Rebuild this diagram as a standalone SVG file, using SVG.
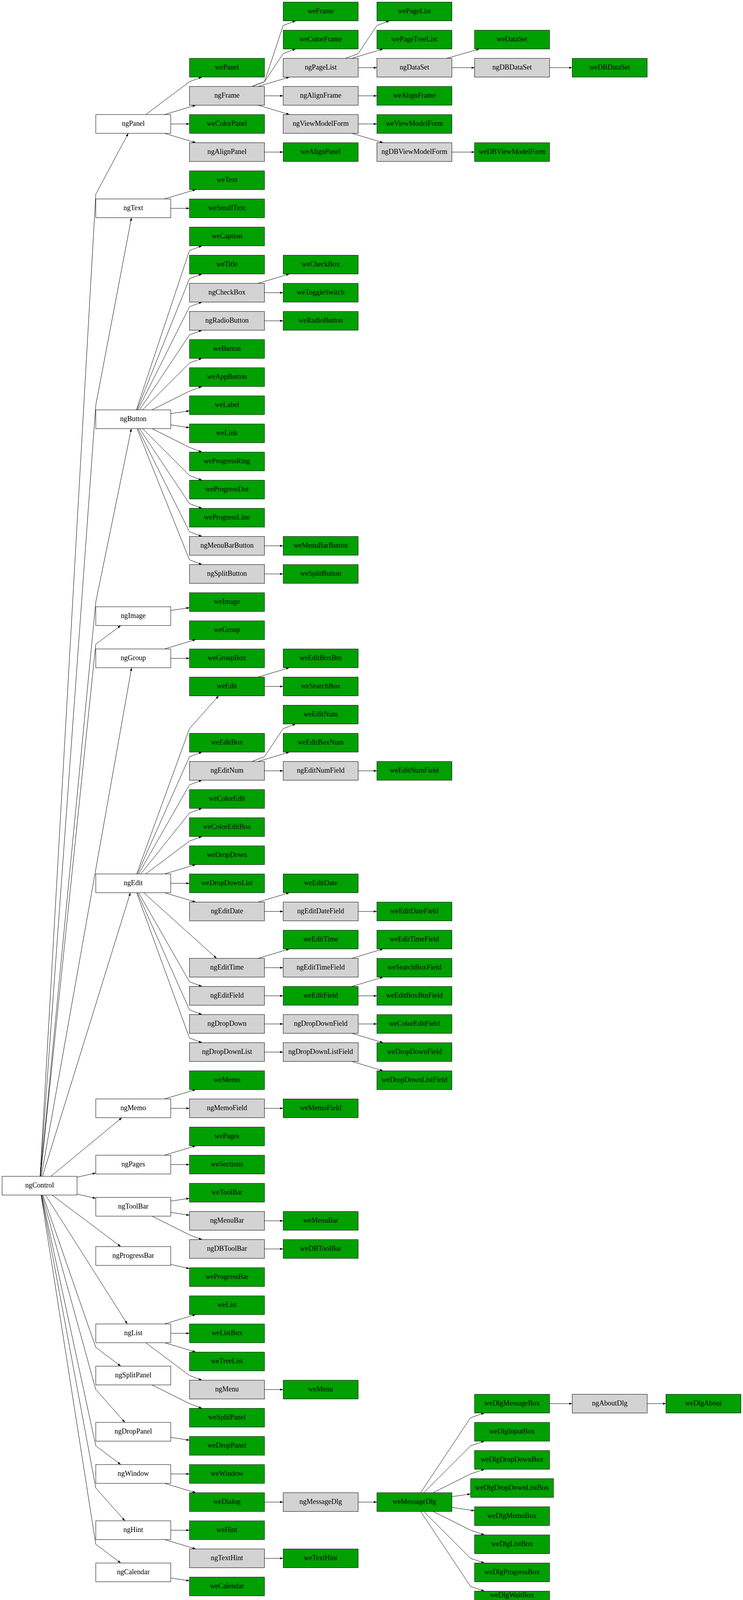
<svg xmlns="http://www.w3.org/2000/svg" width="1903" height="4127" viewBox="0 0 1903 4127">
<style>
.n rect{stroke:#000;stroke-width:1}
.w rect{fill:#fff}
.g rect{fill:#d3d3d3}
.v rect{fill:#00a000}
.n text{font-family:"Liberation Serif","Times New Roman",serif;font-size:18.2px;text-anchor:middle;fill:#000}
#edges path{fill:none;stroke:#000;stroke-width:1;marker-end:url(#arr)}
</style>
<defs>
<marker id="arr" markerUnits="userSpaceOnUse" markerWidth="8" markerHeight="6" refX="8" refY="2.8" orient="auto">
<path d="M0,0 L8,2.8 L0,5.6 z" fill="#000"/>
</marker>
</defs>
<rect x="0" y="0" width="1903" height="4127" fill="#fff"/>
<g id="edges">
<path d="M102.7,3011.3 L245.3,497.3 L328.5,341.3"/>
<path d="M103.1,3011.3 L245.3,1037.3 L336.7,557.3"/>
<path d="M103.6,3011.3 L245.3,1541.3 L336.4,1097.3"/>
<path d="M103.8,3011.3 L245.3,1649.3 L309.3,1601.3"/>
<path d="M105.6,3011.3 L337.1,1709.3"/>
<path d="M108.8,3011.3 L333.9,2285.3"/>
<path d="M130.4,3011.3 L312.2,2861.3"/>
<path d="M197.3,3013.7 L245.3,3002.9"/>
<path d="M197.3,3056.9 L245.3,3067.7"/>
<path d="M133.3,3059.3 L309.3,3191.3"/>
<path d="M116.5,3059.3 L326.1,3389.3"/>
<path d="M109.7,3059.3 L245.3,3449.3 L309.3,3497.3"/>
<path d="M107.9,3059.3 L245.3,3557.3 L320.0,3641.3"/>
<path d="M106.5,3059.3 L245.3,3701.3 L309.3,3749.3"/>
<path d="M105.8,3059.3 L245.3,3809.3 L320.0,3893.3"/>
<path d="M105.1,3059.3 L245.3,3953.3 L309.3,4001.3"/>
<path d="M373.3,293.3 L485.3,209.3 L517.3,197.3"/>
<path d="M421.3,293.3 L501.3,269.3"/>
<path d="M437.3,317.3 L485.3,317.3"/>
<path d="M421.3,341.3 L501.3,365.3"/>
<path d="M421.3,509.3 L501.3,485.3"/>
<path d="M437.3,533.3 L485.3,533.3"/>
<path d="M349.3,1049.3 L485.3,641.3 L517.3,629.3"/>
<path d="M350.9,1049.3 L485.3,713.3 L517.3,701.3"/>
<path d="M353.3,1049.3 L485.3,785.3 L517.3,773.3"/>
<path d="M357.3,1049.3 L485.3,857.3 L517.3,845.3"/>
<path d="M365.3,1049.3 L485.3,929.3 L517.3,917.3"/>
<path d="M389.3,1049.3 L485.3,1001.3 L517.3,989.3"/>
<path d="M437.3,1058.9 L485.3,1051.7"/>
<path d="M437.3,1087.7 L485.3,1094.9"/>
<path d="M389.3,1097.3 L485.3,1145.3 L517.3,1157.3"/>
<path d="M365.3,1097.3 L485.3,1217.3 L517.3,1229.3"/>
<path d="M357.3,1097.3 L485.3,1289.3 L517.3,1301.3"/>
<path d="M353.3,1097.3 L485.3,1361.3 L517.3,1373.3"/>
<path d="M350.9,1097.3 L485.3,1433.3 L517.3,1445.3"/>
<path d="M437.3,1562.9 L485.3,1555.7"/>
<path d="M421.3,1661.3 L501.3,1637.3"/>
<path d="M437.3,1685.3 L485.3,1685.3"/>
<path d="M350.0,2237.3 L485.3,1865.3 L560.0,1781.3"/>
<path d="M352.0,2237.3 L485.3,1937.3 L517.3,1925.3"/>
<path d="M355.0,2237.3 L485.3,2009.3 L517.3,1997.3"/>
<path d="M360.5,2237.3 L485.3,2081.3 L517.3,2069.3"/>
<path d="M373.3,2237.3 L485.3,2153.3 L517.3,2141.3"/>
<path d="M421.3,2237.3 L501.3,2213.3"/>
<path d="M437.3,2261.3 L485.3,2261.3"/>
<path d="M421.3,2285.3 L501.3,2309.3"/>
<path d="M368.0,2285.3 L554.7,2453.3"/>
<path d="M355.0,2285.3 L485.3,2513.3 L517.3,2525.3"/>
<path d="M352.0,2285.3 L485.3,2585.3 L517.3,2597.3"/>
<path d="M350.0,2285.3 L485.3,2657.3 L517.3,2669.3"/>
<path d="M421.3,2813.3 L501.3,2789.3"/>
<path d="M437.3,2837.3 L485.3,2837.3"/>
<path d="M421.3,2957.3 L501.3,2933.3"/>
<path d="M437.3,2981.3 L485.3,2981.3"/>
<path d="M437.3,3074.9 L485.3,3067.7"/>
<path d="M437.3,3103.7 L485.3,3110.9"/>
<path d="M389.3,3113.3 L485.3,3161.3 L517.3,3173.3"/>
<path d="M437.3,3236.9 L485.3,3247.7"/>
<path d="M421.3,3389.3 L501.3,3365.3"/>
<path d="M437.3,3413.3 L485.3,3413.3"/>
<path d="M421.3,3437.3 L501.3,3461.3"/>
<path d="M373.3,3437.3 L485.3,3521.3 L517.3,3533.3"/>
<path d="M389.3,3545.3 L485.3,3593.3 L517.3,3605.3"/>
<path d="M437.3,3679.7 L485.3,3686.9"/>
<path d="M437.3,3773.3 L485.3,3773.3"/>
<path d="M421.3,3797.3 L501.3,3821.3"/>
<path d="M437.3,3917.3 L485.3,3917.3"/>
<path d="M421.3,3941.3 L501.3,3965.3"/>
<path d="M437.3,4039.7 L485.3,4046.9"/>
<path d="M645.3,221.3 L677.3,209.3 L725.3,65.3 L757.3,53.3"/>
<path d="M645.3,221.3 L677.3,209.3 L725.3,137.3 L757.3,125.3"/>
<path d="M661.3,221.3 L741.3,197.3"/>
<path d="M677.3,245.3 L725.3,245.3"/>
<path d="M661.3,269.3 L741.3,293.3"/>
<path d="M677.3,389.3 L725.3,389.3"/>
<path d="M661.3,725.3 L741.3,701.3"/>
<path d="M677.3,749.3 L725.3,749.3"/>
<path d="M677.3,821.3 L725.3,821.3"/>
<path d="M677.3,1397.3 L725.3,1397.3"/>
<path d="M677.3,1469.3 L725.3,1469.3"/>
<path d="M661.3,1733.3 L741.3,1709.3"/>
<path d="M677.3,1757.3 L725.3,1757.3"/>
<path d="M645.3,1949.3 L677.3,1937.3 L725.3,1865.3 L757.3,1853.3"/>
<path d="M661.3,1949.3 L741.3,1925.3"/>
<path d="M677.3,1973.3 L725.3,1973.3"/>
<path d="M661.3,2309.3 L741.3,2285.3"/>
<path d="M677.3,2333.3 L725.3,2333.3"/>
<path d="M661.3,2453.3 L741.3,2429.3"/>
<path d="M677.3,2477.3 L725.3,2477.3"/>
<path d="M677.3,2549.3 L725.3,2549.3"/>
<path d="M677.3,2621.3 L725.3,2621.3"/>
<path d="M677.3,2693.3 L725.3,2693.3"/>
<path d="M677.3,2837.3 L725.3,2837.3"/>
<path d="M677.3,3125.3 L725.3,3125.3"/>
<path d="M677.3,3197.3 L725.3,3197.3"/>
<path d="M677.3,3557.3 L725.3,3557.3"/>
<path d="M677.3,3845.3 L725.3,3845.3"/>
<path d="M677.3,3989.3 L725.3,3989.3"/>
<path d="M885.3,149.3 L917.3,137.3 L965.3,65.3 L997.3,53.3"/>
<path d="M901.3,149.3 L981.3,125.3"/>
<path d="M917.3,173.3 L965.3,173.3"/>
<path d="M917.3,245.3 L965.3,245.3"/>
<path d="M917.3,317.3 L965.3,317.3"/>
<path d="M901.3,341.3 L981.3,365.3"/>
<path d="M917.3,1973.3 L965.3,1973.3"/>
<path d="M917.3,2333.3 L965.3,2333.3"/>
<path d="M901.3,2453.3 L981.3,2429.3"/>
<path d="M901.3,2525.3 L981.3,2501.3"/>
<path d="M917.3,2549.3 L965.3,2549.3"/>
<path d="M917.3,2621.3 L965.3,2621.3"/>
<path d="M901.3,2645.3 L981.3,2669.3"/>
<path d="M901.3,2717.3 L981.3,2741.3"/>
<path d="M917.3,3845.3 L965.3,3845.3"/>
<path d="M1144.7,149.3 L1228.1,125.3"/>
<path d="M1157.3,173.3 L1215.5,173.3"/>
<path d="M1407.5,173.3 L1465.7,173.3"/>
<path d="M1157.3,389.3 L1215.5,389.3"/>
<path d="M1077.3,3821.3 L1205.3,3629.3 L1240.7,3617.3"/>
<path d="M1085.3,3821.3 L1205.3,3701.3 L1240.7,3689.3"/>
<path d="M1109.3,3821.3 L1205.3,3773.3 L1240.7,3761.3"/>
<path d="M1157.3,3831.5 L1205.3,3824.6"/>
<path d="M1157.3,3859.1 L1215.5,3867.5"/>
<path d="M1109.3,3869.3 L1205.3,3917.3 L1240.7,3929.3"/>
<path d="M1085.3,3869.3 L1205.3,3989.3 L1240.7,4001.3"/>
<path d="M1077.3,3869.3 L1205.3,4061.3 L1240.7,4073.3"/>
<path d="M1407.5,3593.3 L1465.7,3593.3"/>
<path d="M1657.7,3593.3 L1705.7,3593.3"/>
</g>
<g id="nodes">
<g id="ngControl" class="n w" transform="translate(101.33,3035.33)"><rect x="-96" y="-24" width="192" height="48"/><text y="4.5">ngControl</text></g>
<g id="ngPanel" class="n w" transform="translate(341.33,317.33)"><rect x="-96" y="-24" width="192" height="48"/><text y="4.5">ngPanel</text></g>
<g id="ngText" class="n w" transform="translate(341.33,533.33)"><rect x="-96" y="-24" width="192" height="48"/><text y="4.5">ngText</text></g>
<g id="ngButton" class="n w" transform="translate(341.33,1073.33)"><rect x="-96" y="-24" width="192" height="48"/><text y="4.5">ngButton</text></g>
<g id="ngImage" class="n w" transform="translate(341.33,1577.33)"><rect x="-96" y="-24" width="192" height="48"/><text y="4.5">ngImage</text></g>
<g id="ngGroup" class="n w" transform="translate(341.33,1685.33)"><rect x="-96" y="-24" width="192" height="48"/><text y="4.5">ngGroup</text></g>
<g id="ngEdit" class="n w" transform="translate(341.33,2261.33)"><rect x="-96" y="-24" width="192" height="48"/><text y="4.5">ngEdit</text></g>
<g id="ngMemo" class="n w" transform="translate(341.33,2837.33)"><rect x="-96" y="-24" width="192" height="48"/><text y="4.5">ngMemo</text></g>
<g id="ngPages" class="n w" transform="translate(341.33,2981.33)"><rect x="-96" y="-24" width="192" height="48"/><text y="4.5">ngPages</text></g>
<g id="ngToolBar" class="n w" transform="translate(341.33,3089.33)"><rect x="-96" y="-24" width="192" height="48"/><text y="4.5">ngToolBar</text></g>
<g id="ngProgressBar" class="n w" transform="translate(341.33,3215.33)"><rect x="-96" y="-24" width="192" height="48"/><text y="4.5">ngProgressBar</text></g>
<g id="ngList" class="n w" transform="translate(341.33,3413.33)"><rect x="-96" y="-24" width="192" height="48"/><text y="4.5">ngList</text></g>
<g id="ngSplitPanel" class="n w" transform="translate(341.33,3521.33)"><rect x="-96" y="-24" width="192" height="48"/><text y="4.5">ngSplitPanel</text></g>
<g id="ngDropPanel" class="n w" transform="translate(341.33,3665.33)"><rect x="-96" y="-24" width="192" height="48"/><text y="4.5">ngDropPanel</text></g>
<g id="ngWindow" class="n w" transform="translate(341.33,3773.33)"><rect x="-96" y="-24" width="192" height="48"/><text y="4.5">ngWindow</text></g>
<g id="ngHint" class="n w" transform="translate(341.33,3917.33)"><rect x="-96" y="-24" width="192" height="48"/><text y="4.5">ngHint</text></g>
<g id="ngCalendar" class="n w" transform="translate(341.33,4025.33)"><rect x="-96" y="-24" width="192" height="48"/><text y="4.5">ngCalendar</text></g>
<g id="wePanel" class="n v" transform="translate(581.33,173.33)"><rect x="-96" y="-24" width="192" height="48"/><text y="4.5">wePanel</text></g>
<g id="ngFrame" class="n g" transform="translate(581.33,245.33)"><rect x="-96" y="-24" width="192" height="48"/><text y="4.5">ngFrame</text></g>
<g id="weColorPanel" class="n v" transform="translate(581.33,317.33)"><rect x="-96" y="-24" width="192" height="48"/><text y="4.5">weColorPanel</text></g>
<g id="ngAlignPanel" class="n g" transform="translate(581.33,389.33)"><rect x="-96" y="-24" width="192" height="48"/><text y="4.5">ngAlignPanel</text></g>
<g id="weText" class="n v" transform="translate(581.33,461.33)"><rect x="-96" y="-24" width="192" height="48"/><text y="4.5">weText</text></g>
<g id="weSmallText" class="n v" transform="translate(581.33,533.33)"><rect x="-96" y="-24" width="192" height="48"/><text y="4.5">weSmallText</text></g>
<g id="weCaption" class="n v" transform="translate(581.33,605.33)"><rect x="-96" y="-24" width="192" height="48"/><text y="4.5">weCaption</text></g>
<g id="weTitle" class="n v" transform="translate(581.33,677.33)"><rect x="-96" y="-24" width="192" height="48"/><text y="4.5">weTitle</text></g>
<g id="ngCheckBox" class="n g" transform="translate(581.33,749.33)"><rect x="-96" y="-24" width="192" height="48"/><text y="4.5">ngCheckBox</text></g>
<g id="ngRadioButton" class="n g" transform="translate(581.33,821.33)"><rect x="-96" y="-24" width="192" height="48"/><text y="4.5">ngRadioButton</text></g>
<g id="weButton" class="n v" transform="translate(581.33,893.33)"><rect x="-96" y="-24" width="192" height="48"/><text y="4.5">weButton</text></g>
<g id="weAppButton" class="n v" transform="translate(581.33,965.33)"><rect x="-96" y="-24" width="192" height="48"/><text y="4.5">weAppButton</text></g>
<g id="weLabel" class="n v" transform="translate(581.33,1037.33)"><rect x="-96" y="-24" width="192" height="48"/><text y="4.5">weLabel</text></g>
<g id="weLink" class="n v" transform="translate(581.33,1109.33)"><rect x="-96" y="-24" width="192" height="48"/><text y="4.5">weLink</text></g>
<g id="weProgressRing" class="n v" transform="translate(581.33,1181.33)"><rect x="-96" y="-24" width="192" height="48"/><text y="4.5">weProgressRing</text></g>
<g id="weProgressDot" class="n v" transform="translate(581.33,1253.33)"><rect x="-96" y="-24" width="192" height="48"/><text y="4.5">weProgressDot</text></g>
<g id="weProgressLine" class="n v" transform="translate(581.33,1325.33)"><rect x="-96" y="-24" width="192" height="48"/><text y="4.5">weProgressLine</text></g>
<g id="ngMenuBarButton" class="n g" transform="translate(581.33,1397.33)"><rect x="-96" y="-24" width="192" height="48"/><text y="4.5">ngMenuBarButton</text></g>
<g id="ngSplitButton" class="n g" transform="translate(581.33,1469.33)"><rect x="-96" y="-24" width="192" height="48"/><text y="4.5">ngSplitButton</text></g>
<g id="weImage" class="n v" transform="translate(581.33,1541.33)"><rect x="-96" y="-24" width="192" height="48"/><text y="4.5">weImage</text></g>
<g id="weGroup" class="n v" transform="translate(581.33,1613.33)"><rect x="-96" y="-24" width="192" height="48"/><text y="4.5">weGroup</text></g>
<g id="weGroupBox" class="n v" transform="translate(581.33,1685.33)"><rect x="-96" y="-24" width="192" height="48"/><text y="4.5">weGroupBox</text></g>
<g id="weEdit" class="n v" transform="translate(581.33,1757.33)"><rect x="-96" y="-24" width="192" height="48"/><text y="4.5">weEdit</text></g>
<g id="weEditBox" class="n v" transform="translate(581.33,1901.33)"><rect x="-96" y="-24" width="192" height="48"/><text y="4.5">weEditBox</text></g>
<g id="ngEditNum" class="n g" transform="translate(581.33,1973.33)"><rect x="-96" y="-24" width="192" height="48"/><text y="4.5">ngEditNum</text></g>
<g id="weColorEdit" class="n v" transform="translate(581.33,2045.33)"><rect x="-96" y="-24" width="192" height="48"/><text y="4.5">weColorEdit</text></g>
<g id="weColorEditBox" class="n v" transform="translate(581.33,2117.33)"><rect x="-96" y="-24" width="192" height="48"/><text y="4.5">weColorEditBox</text></g>
<g id="weDropDown" class="n v" transform="translate(581.33,2189.33)"><rect x="-96" y="-24" width="192" height="48"/><text y="4.5">weDropDown</text></g>
<g id="weDropDownList" class="n v" transform="translate(581.33,2261.33)"><rect x="-96" y="-24" width="192" height="48"/><text y="4.5">weDropDownList</text></g>
<g id="ngEditDate" class="n g" transform="translate(581.33,2333.33)"><rect x="-96" y="-24" width="192" height="48"/><text y="4.5">ngEditDate</text></g>
<g id="ngEditTime" class="n g" transform="translate(581.33,2477.33)"><rect x="-96" y="-24" width="192" height="48"/><text y="4.5">ngEditTime</text></g>
<g id="ngEditField" class="n g" transform="translate(581.33,2549.33)"><rect x="-96" y="-24" width="192" height="48"/><text y="4.5">ngEditField</text></g>
<g id="ngDropDown" class="n g" transform="translate(581.33,2621.33)"><rect x="-96" y="-24" width="192" height="48"/><text y="4.5">ngDropDown</text></g>
<g id="ngDropDownList" class="n g" transform="translate(581.33,2693.33)"><rect x="-96" y="-24" width="192" height="48"/><text y="4.5">ngDropDownList</text></g>
<g id="weMemo" class="n v" transform="translate(581.33,2765.33)"><rect x="-96" y="-24" width="192" height="48"/><text y="4.5">weMemo</text></g>
<g id="ngMemoField" class="n g" transform="translate(581.33,2837.33)"><rect x="-96" y="-24" width="192" height="48"/><text y="4.5">ngMemoField</text></g>
<g id="wePages" class="n v" transform="translate(581.33,2909.33)"><rect x="-96" y="-24" width="192" height="48"/><text y="4.5">wePages</text></g>
<g id="weSections" class="n v" transform="translate(581.33,2981.33)"><rect x="-96" y="-24" width="192" height="48"/><text y="4.5">weSections</text></g>
<g id="weToolBar" class="n v" transform="translate(581.33,3053.33)"><rect x="-96" y="-24" width="192" height="48"/><text y="4.5">weToolBar</text></g>
<g id="ngMenuBar" class="n g" transform="translate(581.33,3125.33)"><rect x="-96" y="-24" width="192" height="48"/><text y="4.5">ngMenuBar</text></g>
<g id="ngDBToolBar" class="n g" transform="translate(581.33,3197.33)"><rect x="-96" y="-24" width="192" height="48"/><text y="4.5">ngDBToolBar</text></g>
<g id="weProgressBar" class="n v" transform="translate(581.33,3269.33)"><rect x="-96" y="-24" width="192" height="48"/><text y="4.5">weProgressBar</text></g>
<g id="weList" class="n v" transform="translate(581.33,3341.33)"><rect x="-96" y="-24" width="192" height="48"/><text y="4.5">weList</text></g>
<g id="weListBox" class="n v" transform="translate(581.33,3413.33)"><rect x="-96" y="-24" width="192" height="48"/><text y="4.5">weListBox</text></g>
<g id="weTreeList" class="n v" transform="translate(581.33,3485.33)"><rect x="-96" y="-24" width="192" height="48"/><text y="4.5">weTreeList</text></g>
<g id="ngMenu" class="n g" transform="translate(581.33,3557.33)"><rect x="-96" y="-24" width="192" height="48"/><text y="4.5">ngMenu</text></g>
<g id="weSplitPanel" class="n v" transform="translate(581.33,3629.33)"><rect x="-96" y="-24" width="192" height="48"/><text y="4.5">weSplitPanel</text></g>
<g id="weDropPanel" class="n v" transform="translate(581.33,3701.33)"><rect x="-96" y="-24" width="192" height="48"/><text y="4.5">weDropPanel</text></g>
<g id="weWindow" class="n v" transform="translate(581.33,3773.33)"><rect x="-96" y="-24" width="192" height="48"/><text y="4.5">weWindow</text></g>
<g id="weDialog" class="n v" transform="translate(581.33,3845.33)"><rect x="-96" y="-24" width="192" height="48"/><text y="4.5">weDialog</text></g>
<g id="weHint" class="n v" transform="translate(581.33,3917.33)"><rect x="-96" y="-24" width="192" height="48"/><text y="4.5">weHint</text></g>
<g id="ngTextHint" class="n g" transform="translate(581.33,3989.33)"><rect x="-96" y="-24" width="192" height="48"/><text y="4.5">ngTextHint</text></g>
<g id="weCalendar" class="n v" transform="translate(581.33,4061.33)"><rect x="-96" y="-24" width="192" height="48"/><text y="4.5">weCalendar</text></g>
<g id="weFrame" class="n v" transform="translate(821.33,29.33)"><rect x="-96" y="-24" width="192" height="48"/><text y="4.5">weFrame</text></g>
<g id="weColorFrame" class="n v" transform="translate(821.33,101.33)"><rect x="-96" y="-24" width="192" height="48"/><text y="4.5">weColorFrame</text></g>
<g id="ngPageList" class="n g" transform="translate(821.33,173.33)"><rect x="-96" y="-24" width="192" height="48"/><text y="4.5">ngPageList</text></g>
<g id="ngAlignFrame" class="n g" transform="translate(821.33,245.33)"><rect x="-96" y="-24" width="192" height="48"/><text y="4.5">ngAlignFrame</text></g>
<g id="ngViewModelForm" class="n g" transform="translate(821.33,317.33)"><rect x="-96" y="-24" width="192" height="48"/><text y="4.5">ngViewModelForm</text></g>
<g id="weAlignPanel" class="n v" transform="translate(821.33,389.33)"><rect x="-96" y="-24" width="192" height="48"/><text y="4.5">weAlignPanel</text></g>
<g id="weCheckBox" class="n v" transform="translate(821.33,677.33)"><rect x="-96" y="-24" width="192" height="48"/><text y="4.5">weCheckBox</text></g>
<g id="weToggleSwitch" class="n v" transform="translate(821.33,749.33)"><rect x="-96" y="-24" width="192" height="48"/><text y="4.5">weToggleSwitch</text></g>
<g id="weRadioButton" class="n v" transform="translate(821.33,821.33)"><rect x="-96" y="-24" width="192" height="48"/><text y="4.5">weRadioButton</text></g>
<g id="weMenuBarButton" class="n v" transform="translate(821.33,1397.33)"><rect x="-96" y="-24" width="192" height="48"/><text y="4.5">weMenuBarButton</text></g>
<g id="weSplitButton" class="n v" transform="translate(821.33,1469.33)"><rect x="-96" y="-24" width="192" height="48"/><text y="4.5">weSplitButton</text></g>
<g id="weEditBoxBtn" class="n v" transform="translate(821.33,1685.33)"><rect x="-96" y="-24" width="192" height="48"/><text y="4.5">weEditBoxBtn</text></g>
<g id="weSearchBox" class="n v" transform="translate(821.33,1757.33)"><rect x="-96" y="-24" width="192" height="48"/><text y="4.5">weSearchBox</text></g>
<g id="weEditNum" class="n v" transform="translate(821.33,1829.33)"><rect x="-96" y="-24" width="192" height="48"/><text y="4.5">weEditNum</text></g>
<g id="weEditBoxNum" class="n v" transform="translate(821.33,1901.33)"><rect x="-96" y="-24" width="192" height="48"/><text y="4.5">weEditBoxNum</text></g>
<g id="ngEditNumField" class="n g" transform="translate(821.33,1973.33)"><rect x="-96" y="-24" width="192" height="48"/><text y="4.5">ngEditNumField</text></g>
<g id="weEditDate" class="n v" transform="translate(821.33,2261.33)"><rect x="-96" y="-24" width="192" height="48"/><text y="4.5">weEditDate</text></g>
<g id="ngEditDateField" class="n g" transform="translate(821.33,2333.33)"><rect x="-96" y="-24" width="192" height="48"/><text y="4.5">ngEditDateField</text></g>
<g id="weEditTime" class="n v" transform="translate(821.33,2405.33)"><rect x="-96" y="-24" width="192" height="48"/><text y="4.5">weEditTime</text></g>
<g id="ngEditTimeField" class="n g" transform="translate(821.33,2477.33)"><rect x="-96" y="-24" width="192" height="48"/><text y="4.5">ngEditTimeField</text></g>
<g id="weEditField" class="n v" transform="translate(821.33,2549.33)"><rect x="-96" y="-24" width="192" height="48"/><text y="4.5">weEditField</text></g>
<g id="ngDropDownField" class="n g" transform="translate(821.33,2621.33)"><rect x="-96" y="-24" width="192" height="48"/><text y="4.5">ngDropDownField</text></g>
<g id="ngDropDownListField" class="n g" transform="translate(821.33,2693.33)"><rect x="-96" y="-24" width="192" height="48"/><text y="4.5">ngDropDownListField</text></g>
<g id="weMemoField" class="n v" transform="translate(821.33,2837.33)"><rect x="-96" y="-24" width="192" height="48"/><text y="4.5">weMemoField</text></g>
<g id="weMenuBar" class="n v" transform="translate(821.33,3125.33)"><rect x="-96" y="-24" width="192" height="48"/><text y="4.5">weMenuBar</text></g>
<g id="weDBToolBar" class="n v" transform="translate(821.33,3197.33)"><rect x="-96" y="-24" width="192" height="48"/><text y="4.5">weDBToolBar</text></g>
<g id="weMenu" class="n v" transform="translate(821.33,3557.33)"><rect x="-96" y="-24" width="192" height="48"/><text y="4.5">weMenu</text></g>
<g id="ngMessageDlg" class="n g" transform="translate(821.33,3845.33)"><rect x="-96" y="-24" width="192" height="48"/><text y="4.5">ngMessageDlg</text></g>
<g id="weTextHint" class="n v" transform="translate(821.33,3989.33)"><rect x="-96" y="-24" width="192" height="48"/><text y="4.5">weTextHint</text></g>
<g id="wePageList" class="n v" transform="translate(1061.33,29.33)"><rect x="-96" y="-24" width="192" height="48"/><text y="4.5">wePageList</text></g>
<g id="wePageTreeList" class="n v" transform="translate(1061.33,101.33)"><rect x="-96" y="-24" width="192" height="48"/><text y="4.5">wePageTreeList</text></g>
<g id="ngDataSet" class="n g" transform="translate(1061.33,173.33)"><rect x="-96" y="-24" width="192" height="48"/><text y="4.5">ngDataSet</text></g>
<g id="weAlignFrame" class="n v" transform="translate(1061.33,245.33)"><rect x="-96" y="-24" width="192" height="48"/><text y="4.5">weAlignFrame</text></g>
<g id="weViewModelForm" class="n v" transform="translate(1061.33,317.33)"><rect x="-96" y="-24" width="192" height="48"/><text y="4.5">weViewModelForm</text></g>
<g id="ngDBViewModelForm" class="n g" transform="translate(1061.33,389.33)"><rect x="-96" y="-24" width="192" height="48"/><text y="4.5">ngDBViewModelForm</text></g>
<g id="weEditNumField" class="n v" transform="translate(1061.33,1973.33)"><rect x="-96" y="-24" width="192" height="48"/><text y="4.5">weEditNumField</text></g>
<g id="weEditDateField" class="n v" transform="translate(1061.33,2333.33)"><rect x="-96" y="-24" width="192" height="48"/><text y="4.5">weEditDateField</text></g>
<g id="weEditTimeField" class="n v" transform="translate(1061.33,2405.33)"><rect x="-96" y="-24" width="192" height="48"/><text y="4.5">weEditTimeField</text></g>
<g id="weSearchBoxField" class="n v" transform="translate(1061.33,2477.33)"><rect x="-96" y="-24" width="192" height="48"/><text y="4.5">weSearchBoxField</text></g>
<g id="weEditBoxBtnField" class="n v" transform="translate(1061.33,2549.33)"><rect x="-96" y="-24" width="192" height="48"/><text y="4.5">weEditBoxBtnField</text></g>
<g id="weColorEditField" class="n v" transform="translate(1061.33,2621.33)"><rect x="-96" y="-24" width="192" height="48"/><text y="4.5">weColorEditField</text></g>
<g id="weDropDownField" class="n v" transform="translate(1061.33,2693.33)"><rect x="-96" y="-24" width="192" height="48"/><text y="4.5">weDropDownField</text></g>
<g id="weDropDownListField" class="n v" transform="translate(1061.33,2765.33)"><rect x="-96" y="-24" width="192" height="48"/><text y="4.5">weDropDownListField</text></g>
<g id="weMessageDlg" class="n v" transform="translate(1061.33,3845.33)"><rect x="-96" y="-24" width="192" height="48"/><text y="4.5">weMessageDlg</text></g>
<g id="weDataSet" class="n v" transform="translate(1311.5,101.33)"><rect x="-96" y="-24" width="192" height="48"/><text y="4.5">weDataSet</text></g>
<g id="ngDBDataSet" class="n g" transform="translate(1311.5,173.33)"><rect x="-96" y="-24" width="192" height="48"/><text y="4.5">ngDBDataSet</text></g>
<g id="weDBViewModelForm" class="n v" transform="translate(1311.5,389.33)"><rect x="-96" y="-24" width="192" height="48"/><text y="4.5">weDBViewModelForm</text></g>
<g id="weDlgMessageBox" class="n v" transform="translate(1311.5,3593.33)"><rect x="-96" y="-24" width="192" height="48"/><text y="4.5">weDlgMessageBox</text></g>
<g id="weDlgInputBox" class="n v" transform="translate(1311.5,3665.33)"><rect x="-96" y="-24" width="192" height="48"/><text y="4.5">weDlgInputBox</text></g>
<g id="weDlgDropDownBox" class="n v" transform="translate(1311.5,3737.33)"><rect x="-96" y="-24" width="192" height="48"/><text y="4.5">weDlgDropDownBox</text></g>
<g id="weDlgDropDownListBox" class="n v" transform="translate(1311.5,3809.33)"><rect x="-106.17" y="-24" width="212.33" height="48"/><text y="4.5">weDlgDropDownListBox</text></g>
<g id="weDlgMemoBox" class="n v" transform="translate(1311.5,3881.33)"><rect x="-96" y="-24" width="192" height="48"/><text y="4.5">weDlgMemoBox</text></g>
<g id="weDlgListBox" class="n v" transform="translate(1311.5,3953.33)"><rect x="-96" y="-24" width="192" height="48"/><text y="4.5">weDlgListBox</text></g>
<g id="weDlgProgressBox" class="n v" transform="translate(1311.5,4025.33)"><rect x="-96" y="-24" width="192" height="48"/><text y="4.5">weDlgProgressBox</text></g>
<g id="weDlgWaitBox" class="n v" transform="translate(1311.5,4097.33)"><rect x="-96" y="-24" width="192" height="48"/><text y="-8">weDlgWaitBox</text></g>
<g id="weDBDataSet" class="n v" transform="translate(1561.67,173.33)"><rect x="-96" y="-24" width="192" height="48"/><text y="4.5">weDBDataSet</text></g>
<g id="ngAboutDlg" class="n g" transform="translate(1561.67,3593.33)"><rect x="-96" y="-24" width="192" height="48"/><text y="4.5">ngAboutDlg</text></g>
<g id="weDlgAbout" class="n v" transform="translate(1801.67,3593.33)"><rect x="-96" y="-24" width="192" height="48"/><text y="4.5">weDlgAbout</text></g>
</g>
</svg>
